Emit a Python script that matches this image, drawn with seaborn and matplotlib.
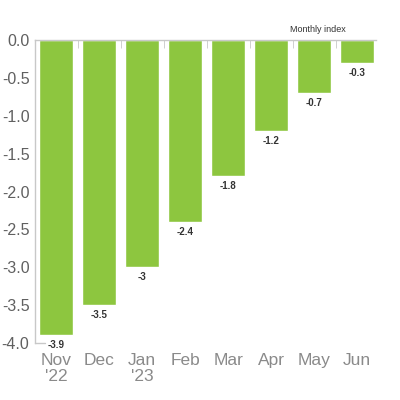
import matplotlib
matplotlib.use("Agg")
import matplotlib.pyplot as plt
import seaborn as sns
import pandas as pd

# Data
months = ["Nov\n'22", "Dec", "Jan\n'23", "Feb", "Mar", "Apr", "May", "Jun"]
values = [-3.9, -3.5, -3.0, -2.4, -1.8, -1.2, -0.7, -0.3]
y_ticks = [0.0, -0.5, -1.0, -1.5, -2.0, -2.5, -3.0, -3.5, -4.0]

df = pd.DataFrame({"month": months, "value": values})

sns.set_style("white")
plt.rcParams["font.family"] = ["Liberation Sans", "DejaVu Sans"]
plt.rcParams["axes.unicode_minus"] = False

green = "#8DC63F"
line_gray = "#c8c8c8"
narrow = ["Liberation Sans Narrow", "Liberation Sans", "DejaVu Sans"]

fig = plt.figure(figsize=(4, 4), dpi=100)
ax = fig.add_axes([0.0875, 0.1425, 0.8525, 0.7575])

sns.barplot(data=df, x="month", y="value", color=green, width=0.79,
            saturation=1, ax=ax)

ax.set_ylim(-4.0, 0.0)
ax.set_xlim(-0.49, 7.44)
ax.set_xlabel("")
ax.set_ylabel("")

# spines: left and top only, light gray
for side in ["right", "bottom"]:
    ax.spines[side].set_visible(False)
for side in ["left", "top"]:
    ax.spines[side].set_color(line_gray)
    ax.spines[side].set_linewidth(1.0)
ax.axhline(-4.0, xmin=0, xmax=0.03, color=line_gray, lw=1.0, clip_on=False)

# y axis
ax.set_yticks(y_ticks)
ax.set_yticklabels([f"{t:.1f}" for t in y_ticks], fontsize=11.5, color="#606060")
ax.tick_params(axis="y", direction="in", length=3, color=line_gray, pad=4)

# x axis labels (no marks) + small boundary ticks at the top
ax.set_xticks(range(len(months)))
ax.set_xticklabels(months, fontsize=12.5, color="#8a8a8a", linespacing=1.1)
ax.tick_params(axis="x", which="major", length=0, pad=7)
ax.set_xticks([i + 0.5 for i in range(len(months) - 1)], minor=True)
ax.tick_params(axis="x", which="minor", top=True, bottom=False,
               direction="in", length=6, color=line_gray)

# value labels under each bar
for i, v in enumerate(values):
    ax.annotate(f"{v:g}", (i, v), xytext=(0, -3.5), textcoords="offset points",
                ha="center", va="top", fontsize=7, fontweight="bold",
                color="#333333", family=narrow)

ax.text(0.83, 1.035, "Monthly index", transform=ax.transAxes, ha="center",
        va="center", fontsize=6.5, color="#333333", family=narrow)

fig.savefig("out.png", dpi=100)
